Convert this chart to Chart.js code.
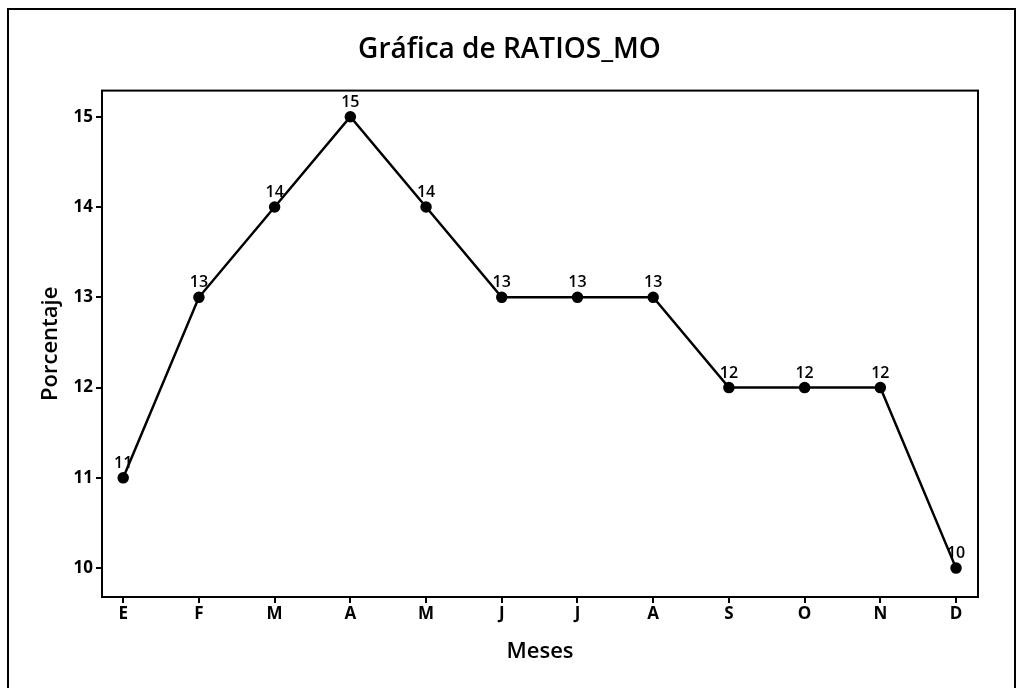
<!DOCTYPE html>
<html>
<head>
<meta charset="utf-8">
<script src="https://cdn.jsdelivr.net/npm/chart.js@4.4.0/dist/chart.umd.min.js"></script>
<style>
  html, body { margin: 0; padding: 0; background: #fff; }
  #wrap { width: 1019px; height: 688px; position: relative; }
</style>
</head>
<body>
<div id="wrap"><canvas id="lineChart" width="1019" height="688"></canvas></div>
<script>
const meses = ['E', 'F', 'M', 'A', 'M', 'J', 'J', 'A', 'S', 'O', 'N', 'D'];
const ratios = [11, 13, 14, 15, 14, 13, 13, 13, 12, 12, 12, 10];
const yTicks = [10, 11, 12, 13, 14, 15];

window.onload = main;

function main(){
    lineChart(meses, ratios);
}

// marco exterior y marco del area de trazado
const marcoPlugin = {
    id: 'marco',
    beforeDraw(chart){
        const ctx = chart.ctx;
        ctx.save();
        ctx.fillStyle = '#fff';
        ctx.fillRect(0, 0, chart.width, chart.height);
        ctx.strokeStyle = '#000';
        ctx.lineWidth = 2;
        ctx.strokeRect(8, 9, chart.width - 12, chart.height + 10);
        ctx.restore();
    },
    afterDatasetsDraw(chart){
        const {ctx, chartArea: a} = chart;
        ctx.save();
        ctx.strokeStyle = '#000';
        ctx.lineWidth = 2;
        ctx.strokeRect(a.left, a.top, a.right - a.left, a.bottom - a.top);
        ctx.restore();
    }
};

// etiquetas de valor encima de cada punto
const etiquetasPlugin = {
    id: 'etiquetas',
    afterDatasetsDraw(chart){
        const ctx = chart.ctx;
        const meta = chart.getDatasetMeta(0);
        ctx.save();
        ctx.fillStyle = '#000';
        ctx.font = '600 16px "Open Sans"';
        ctx.textAlign = 'center';
        ctx.textBaseline = 'alphabetic';
        meta.data.forEach((pt, i) => {
            ctx.fillText(ratios[i], pt.x, pt.y - 10);
        });
        ctx.restore();
    }
};

function lineChart(etiquetas, valores){
    const puntos = valores.map((v, i) => ({x: i, y: v}));
    const ctx = document.getElementById('lineChart').getContext('2d');
    const fuenteTick = { family: 'Open Sans', size: 17, weight: '700' };
    const fuenteTitulo = { family: 'Open Sans', size: 22, weight: '600' };

    new Chart(ctx, {
        type: 'line',
        data: {
            datasets: [{
                label: 'RATIOS_MO',
                data: puntos,
                borderColor: '#000',
                backgroundColor: '#000',
                borderWidth: 2.5,
                pointRadius: 4.5,
                pointBackgroundColor: '#000',
                pointBorderColor: '#000',
                tension: 0,
                fill: false
            }]
        },
        options: {
            responsive: false,
            animation: false,
            layout: { padding: 0 },
            plugins: {
                legend: { display: false },
                tooltip: { enabled: false },
                title: {
                    display: true,
                    text: 'Gráfica de RATIOS_MO',
                    color: '#000',
                    font: { family: 'Open Sans', size: 28, weight: '600' },
                    padding: { top: 33, bottom: 24 }
                }
            },
            scales: {
                x: {
                    type: 'linear',
                    min: -0.28,
                    max: 11.29,
                    afterFit: s => { s.height = 91; },
                    afterBuildTicks: s => { s.ticks = etiquetas.map((m, i) => ({value: i})); },
                    ticks: {
                        stepSize: 1,
                        includeBounds: false,
                        color: '#000',
                        padding: 1,
                        maxRotation: 0,
                        autoSkip: false,
                        font: fuenteTick,
                        callback: v => etiquetas[v]
                    },
                    grid: { drawOnChartArea: false, drawTicks: true, tickLength: 6, color: '#000', lineWidth: 2 },
                    border: { display: true, color: '#000', width: 2 },
                    title: {
                        display: true,
                        text: 'Meses',
                        color: '#000',
                        font: fuenteTitulo,
                        padding: { top: 0, bottom: 23 }
                    }
                },
                y: {
                    min: 9.68,
                    max: 15.29,
                    afterFit: s => { s.width = 102; },
                    afterBuildTicks: s => { s.ticks = yTicks.map(v => ({value: v})); },
                    ticks: {
                        stepSize: 1,
                        includeBounds: false,
                        color: '#000',
                        padding: 3,
                        font: fuenteTick
                    },
                    grid: { drawOnChartArea: false, drawTicks: true, tickLength: 6, color: '#000', lineWidth: 2 },
                    border: { display: true, color: '#000', width: 2 },
                    title: {
                        display: true,
                        text: 'Porcentaje',
                        color: '#000',
                        font: fuenteTitulo,
                        padding: { top: 38, bottom: 0 }
                    }
                },
                // eje vacio solo para reservar el margen derecho
                yDerecha: {
                    position: 'right',
                    afterFit: s => { s.width = 41; },
                    ticks: { display: false },
                    grid: { display: false },
                    border: { display: false }
                }
            }
        },
        plugins: [marcoPlugin, etiquetasPlugin]
    });
}
</script>
</body>
</html>
